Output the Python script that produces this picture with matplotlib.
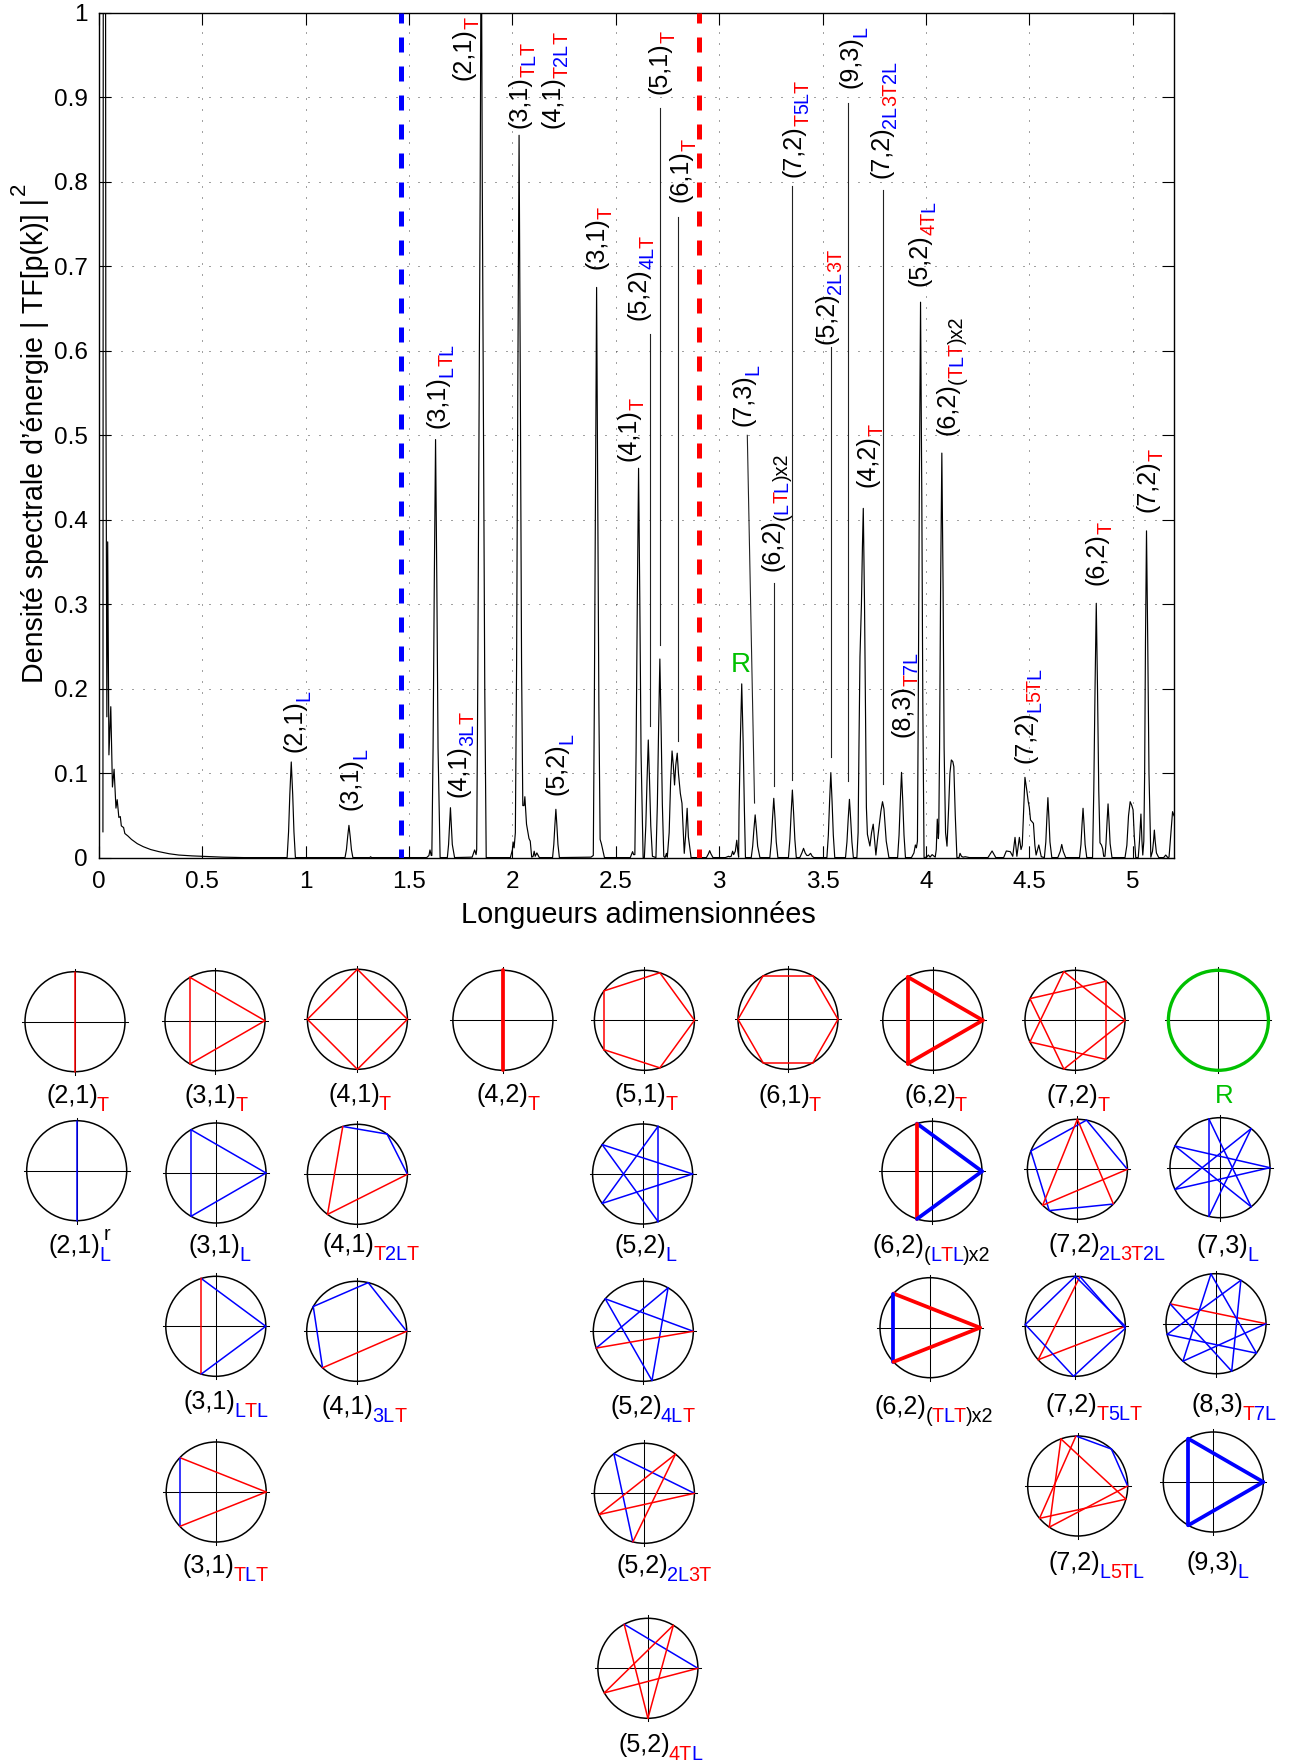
import numpy as np
import matplotlib
matplotlib.use("Agg")
import matplotlib.pyplot as plt
from matplotlib.patches import Circle

plt.rcParams.update({"font.family": ["Liberation Sans", "DejaVu Sans"], "font.size": 17})

W, H = 1297, 1764
AX_L, AX_R, AX_T, AX_B = 99, 1174, 12.7, 858
RED, BLUE, GREEN = "#ff0000", "#0000ff", "#00c000"

SPEC_X = [
    .019, .021, .031, .033, .038, .042, .048, .057, .065, .073, .082, .088, .096, .103, .108, .119, .125, .14, .157,
    .185, .214, .25, .29, .34, .386, .45, .5, .6, .7, .8,
    .91, .917, .923, .930, .937, .943, .95,
    1.19, 1.197, 1.203, 1.209, 1.215, 1.221, 1.228, 1.31, 1.314, 1.318,
    1.585, 1.596, 1.601, 1.607,
    1.610, 1.616, 1.622, 1.628, 1.634, 1.640, 1.650,
    1.685, 1.691, 1.696, 1.70, 1.704, 1.709, 1.72,
    1.805, 1.817, 1.824, 1.827, 1.832, 1.838, 1.844, 1.849, 1.854, 1.860, 1.866, 1.873,
    1.99, 2.0, 2.003, 2.008, 2.014, 2.02, 2.026, 2.032, 2.038, 2.044, 2.05, 2.056, 2.06, 2.068, 2.08, 2.086, 2.093, 2.10, 2.105, 2.11, 2.118, 2.13,
    2.194, 2.2, 2.205, 2.21, 2.215, 2.22, 2.227,
    2.38, 2.391, 2.396, 2.402, 2.407, 2.412, 2.418, 2.424, 2.43, 2.445,
    2.57, 2.581, 2.586, 2.592, 2.598, 2.604, 2.61, 2.616, 2.622, 2.632,
    2.638, 2.645, 2.651, 2.657, 2.663, 2.669, 2.677,
    2.694, 2.701, 2.707, 2.713, 2.719, 2.725, 2.732,
    2.738, 2.745, 2.749, 2.758, 2.765, 2.772, 2.778, 2.784, 2.79, 2.797, 2.803, 2.812, 2.82, 2.831, 2.837, 2.845, 2.851, 2.864,
    2.938, 2.948, 2.954, 2.96, 2.97,
    3.03, 3.045, 3.05, 3.058, 3.065, 3.07, 3.078, 3.085, 3.09, 3.094,
    3.096, 3.102, 3.109, 3.116, 3.122, 3.127,
    3.155, 3.162, 3.168, 3.174, 3.18, 3.186, 3.197,
    3.245, 3.252, 3.258, 3.264, 3.27, 3.276, 3.284,
    3.335, 3.342, 3.348, 3.354, 3.36, 3.366, 3.373,
    3.39, 3.40, 3.408, 3.416, 3.424, 3.432, 3.442, 3.45, 3.458,
    3.521, 3.528, 3.534, 3.54, 3.546, 3.552, 3.559,
    3.611, 3.618, 3.624, 3.63, 3.636, 3.642, 3.649,
    3.666, 3.672, 3.676, 3.681, 3.688, 3.693, 3.697, 3.703, 3.708, 3.712, 3.717, 3.729, 3.737, 3.745, 3.752, 3.758, 3.765, 3.773, 3.782, 3.79, 3.797, 3.808, 3.821,
    3.863, 3.87, 3.876, 3.882, 3.888, 3.894, 3.901,
    3.93, 3.942, 3.949, 3.954,
    3.959, 3.963, 3.968, 3.974, 3.98, 3.985, 3.991,
    3.995, 4.005, 4.012, 4.02, 4.03, 4.04, 4.045,
    4.05, 4.055, 4.06, 4.062, 4.066, 4.071, 4.077, 4.083, 4.088, 4.095, 4.102, 4.11, 4.116, 4.123, 4.13, 4.135, 4.142, 4.15,
    4.16, 4.165, 4.172, 4.18, 4.19, 4.2, 4.21,
    4.30, 4.32, 4.338,
    4.376, 4.389, 4.408, 4.42, 4.431, 4.44, 4.452, 4.46, 4.466, 4.479, 4.488, 4.495, 4.50, 4.506, 4.52, 4.527, 4.533, 4.546, 4.558,
    4.573, 4.58, 4.585, 4.59, 4.595, 4.6, 4.609,
    4.638, 4.65, 4.657, 4.664, 4.676,
    4.743, 4.75, 4.755, 4.76, 4.765, 4.77, 4.778,
    4.806, 4.812, 4.818, 4.824, 4.83, 4.836, 4.842, 4.849, 4.855, 4.86,
    4.866, 4.871, 4.876, 4.881, 4.886, 4.891, 4.9,
    4.963, 4.972, 4.98, 4.988, 4.996, 5.002, 5.008, 5.015,
    5.027, 5.033, 5.04, 5.045, 5.049,
    5.054, 5.058, 5.062, 5.067, 5.073, 5.079, 5.088,
    5.096, 5.101, 5.105, 5.109, 5.115, 5.126,
    5.15, 5.16, 5.17, 5.176, 5.185, 5.193, 5.2,
]
SPEC_Y = [
    .031, 1.3, 1.3, .6, .167, .374, .122, .179, .084, .105, .059, .069, .048, .049, .038, .036, .029, .026, .022,
    .017, .0134, .01, .0075, .005, .0035, .0025, .002, .001, .0005, .0005,
    .0005, .031, .075, .1136, .075, .031, .0005,
    .0005, .010, .0255, .0386, .0255, .010, .0005, .0005, .0015, .0005,
    .0005, .003, .0095, .003,
    .003, .13, .33, .495, .33, .13, .0005,
    .0005, .016, .039, .0595, .039, .016, .0005,
    .001, .0095, .004, .01, .2, .5, .8, 1.15, .8, .5, .2, .0005,
    .0005, .01, .019, .012, .03, .23, .56, .855, .56, .23, .062, .062, .0725, .04, .023, .02, .001, .002, .008, .002, .006, .0005,
    .0005, .016, .038, .0576, .038, .016, .0005,
    .001, .003, .18, .445, .675, .445, .18, .022, .017, .0005,
    .0005, .0075, .004, .004, .125, .305, .461, .305, .125, .0005,
    .0005, .038, .092, .1396, .092, .038, .002,
    .0005, .064, .155, .2354, .155, .064, .002,
    .0005, .0055, .001, .03, .09, .1266, .11, .0864, .11, .124, .10, .0765, .0647, .0055, .025, .0588, .025, .0005,
    .0005, .005, .0087, .005, .0005,
    .0005, .002, .0015, .002, .008, .004, .008, .021, .008, .001,
    .056, .136, .206, .136, .056, .0005,
    .0005, .014, .034, .051, .034, .014, .0005,
    .0005, .019, .047, .0706, .047, .019, .0005,
    .0005, .022, .053, .0804, .053, .022, .0005,
    .0005, .006, .0114, .006, .003, .003, .0055, .002, .0005,
    .0005, .027, .067, .101, .067, .027, .0005,
    .0005, .019, .046, .0694, .046, .019, .0005,
    .0005, .03, .13, .238, .30, .37, .4136, .30, .16, .06, .028, .0142, .03, .04, .02, .0035, .02, .037, .055, .0666, .058, .02, .0005,
    .0005, .027, .067, .1013, .067, .027, .0005,
    .0005, .006, .0154, .012,
    .02, .18, .43, .6575, .43, .18, .0005,
    .0005, .0015, .0035, .001, .004, .002, .001,
    .01, .046, .023, .03, .13, .32, .479, .32, .13, .03, .014, .06, .10, .116, .114, .108, .05, .0005,
    .0005, .0055, .002, .001, .0015, .001, .0005,
    .0005, .0083, .0005,
    .0005, .0083, .0075, .002, .0244, .002, .0244, .01, .015, .0954, .08, .0666, .06, .045, .041, .015, .0035, .0154, .0015,
    .0005, .019, .047, .0714, .047, .019, .0005,
    .0005, .008, .016, .008, .0005,
    .0005, .016, .039, .0588, .039, .016, .0005,
    .0005, .08, .2, .3013, .2, .08, .018, .0154, .011, .002,
    .002, .017, .042, .064, .042, .017, .0005,
    .0005, .015, .05, .0666, .062, .057, .025, .0005,
    .0005, .02, .052, .02, .0035,
    .02, .1, .255, .387, .255, .1, .001,
    .008, .02, .033, .02, .006, .0005,
    .0005, .0035, .0005, .001, .03, .0548, .05,
]

# leader lines from the labels down to their peaks
LEAD_X0 = [2.663, 2.715, 2.801, 3.136, 3.266, 3.354, 3.539, 3.624, 3.794]
LEAD_X1 = [2.663, 2.715, 2.801, 3.171, 3.266, 3.354, 3.539, 3.624, 3.794]
LEAD_TOP = [.62, .887, .758, .5, .325, .795, .605, .893, .79]
LEAD_BOT = [.156, .252, .138, .065, .085, .092, .119, .091, .087]

BLUE_LIMIT = 1.46
RED_LIMIT = 2.90

X_TICKS = [0, .5, 1, 1.5, 2, 2.5, 3, 3.5, 4, 4.5, 5]
X_TICK_LABELS = ["0", "0.5", "1", "1.5", "2", "2.5", "3", "3.5", "4", "4.5", "5"]
Y_TICKS = [0, .1, .2, .3, .4, .5, .6, .7, .8, .9, 1]
Y_TICK_LABELS = ["0", "0.1", "0.2", "0.3", "0.4", "0.5", "0.6", "0.7", "0.8", "0.9", "1"]

# rotated peak labels: main text, subscript, baseline x and start y in pixels
PEAK_MAIN = ["(2,1)", "(3,1)", "(4,1)", "(5,2)", "(3,1)", "(2,1)", "(3,1)", "(4,1)", "(3,1)", "(5,2)", "(4,1)",
             "(5,1)", "(6,1)", "(7,2)", "(9,3)", "(7,2)", "(5,2)", "(5,2)", "(7,3)", "(6,2)", "(4,2)", "(7,2)",
             "(6,2)", "(8,3)", "(7,2)", "(6,2)"]
PEAK_SUB = ["L", "L", "3LT", "L", "LTL", "T", "TLT", "T2LT", "T", "4LT", "T",
            "T", "T", "T5LT", "L", "2L3T2L", "2L3T", "4TL", "L", "(TLT)x2", "T", "T",
            "(LTL)x2", "T7L", "L5TL", "T"]
PEAK_PX = [301, 358, 465.5, 564, 444.6, 470.3, 526.4, 559, 604, 646, 636,
           666.8, 687.8, 800.6, 858, 888.4, 833, 926.7, 750.8, 954.8, 874.5, 1154.5,
           779.6, 909, 1032.7, 1103]
PEAK_PY = [751.7, 810, 796.7, 795, 427.7, 80, 127.7, 128.3, 269.3, 320, 460.7,
           94, 201.7, 176.7, 87.7, 178.3, 344.3, 285.7, 425.7, 435, 487, 511.7,
           570.7, 736.7, 762.7, 585]

# orbit diagrams: vertex angles in degrees, then L or T for each chord
ORBIT_ANGLES = [
    [90, 270], [0, 120, 240], [0, 90, 180, 270], [90, 270], [0, 72, 144, 216, 288], [0, 60, 120, 180, 240, 300],
    [0, 120, 240], [0, 102.86, 205.71, 308.57, 51.43, 154.29, 257.14], [],
    [90, 270], [0, 120, 240], [0, 53.6, 107, 233.3], [0, 144, 288, 72, 216], [0, 107.5, 252.5],
    [0, 79.5, 158.6, 235.7, 316, 90, 226], [0, 154.29, 308.57, 102.86, 257.14, 51.43, 205.71],
    [0, 107, 253], [0, 76.7, 150.3, 226.9], [0, 139.5, 280, 60.3, 199.6], [0, 136.9, 223.1],
    [0, 222, 84.6, 357.7, 268, 178, 90], [0, 156.6, 288.3, 60.2, 192.4, 323.9, 95.8, 228.6],
    [0, 136.6, 223.4], [0, 127.6, 256.6, 51.5, 205.1], [0, 47.7, 92, 220.3, 344.7, 109.6, 235.4], [0, 120, 240],
    [0, 118.3, 270, 59.4, 209.4],
]
ORBIT_KINDS = [
    "T", "TTT", "TTTT", "T", "TTTTT", "TTTTTT",
    "TTT", "TTTTTTT", "",
    "L", "LLL", "LLTT", "LLLLL", "LTL",
    "LLLLTTT", "LLLLLLL",
    "LTL", "LLLT", "LLLLT", "TLT",
    "TTLLLLL", "TLLLLLLL",
    "TLT", "LLTTT", "LLTTTTT", "LLL",
    "LTTTT",
]
ORBIT_THICK = [0, 0, 0, 1, 0, 0, 1, 0, 0,
               0, 0, 0, 0, 1, 0, 0,
               0, 0, 0, 1, 0, 0,
               0, 0, 0, 1, 0]
ORBIT_CX = [75, 215, 357.4, 502.9, 644.4, 788, 932.8, 1075, 1218.4,
            76.7, 216, 357.4, 642.6, 932, 1077.4, 1220,
            215.8, 356.7, 643.3, 930, 1075.3, 1216,
            216.2, 644.4, 1077.7, 1213.3,
            647.9]
ORBIT_CY = [1021.7, 1020.7, 1019.3, 1020.3, 1020.3, 1019.3, 1020.3, 1020.3, 1020.3,
            1170.7, 1173, 1174.3, 1174, 1171.3, 1169.3, 1167.7,
            1326.3, 1331.3, 1331.3, 1327.7, 1326.3, 1323.7,
            1492, 1493.3, 1486, 1482,
            1668.3]
ORBIT_MAIN = ["(2,1)", "(3,1)", "(4,1)", "(4,2)", "(5,1)", "(6,1)", "(6,2)", "(7,2)", "",
              "(2,1)", "(3,1)", "(4,1)", "(5,2)", "(6,2)", "(7,2)", "(7,3)",
              "(3,1)", "(4,1)", "(5,2)", "(6,2)", "(7,2)", "(8,3)",
              "(3,1)", "(5,2)", "(7,2)", "(9,3)",
              "(5,2)"]
ORBIT_SUB = ["T", "T", "T", "T", "T", "T", "T", "T", "",
             "L", "L", "T2LT", "L", "(LTL)x2", "2L3T2L", "L",
             "LTL", "3LT", "4LT", "(TLT)x2", "T5LT", "T7L",
             "TLT", "2L3T", "L5TL", "L",
             "4TL"]
ORBIT_LX = [46, 185, 328, 477, 615, 758, 904, 1047, 0,
            48.5, 189, 322.6, 615, 873, 1048, 1197,
            183.7, 321.8, 610, 875, 1045.7, 1191.7,
            182.5, 616, 1049, 1186.7,
            618]
ORBIT_LY = [1103, 1103, 1102, 1102, 1102, 1103, 1103, 1103, 0,
            1253, 1253, 1252, 1253, 1253, 1252, 1253,
            1409, 1414, 1414, 1414, 1411.7, 1411.7,
            1573, 1573, 1570, 1570,
            1751.7]


def sub_runs(sub):
    """Cut a subscript into runs of one colour: a digit takes the colour of the letter after it."""
    runs = []
    closed = False
    for i, c in enumerate(sub):
        if c == "(":
            col = "black"
        elif c == ")" or closed:
            col, closed = "black", True
        elif c.isdigit():
            col = RED if sub[i + 1] == "T" else BLUE
        else:
            col = RED if c == "T" else BLUE
        if runs and runs[-1][1] == col:
            runs[-1][0] += c
        else:
            runs.append([c, col])
    return runs


def draw_label(ov, renderer, x, y, main, sub, rotated):
    rot = 90 if rotated else 0
    t = ov.text(x, y, main, fontsize=18.1, color="black", rotation=rot, rotation_mode="anchor", ha="left", va="baseline")
    ext = t.get_window_extent(renderer)
    pos = (ext.height if rotated else ext.width) - 1
    for text, col in sub_runs(sub):
        if rotated:
            xy = (x + 8, y - pos)
        else:
            xy = (x + pos, y + 8)
        t = ov.text(xy[0], xy[1], text, fontsize=14.2, color=col, rotation=rot, rotation_mode="anchor", ha="left", va="baseline")
        ext = t.get_window_extent(renderer)
        pos += (ext.height if rotated else ext.width) - 0.5


def draw_orbit(ov, cx, cy, angles, kinds, thick, r=50):
    ov.plot([cx - r - 3, cx + r + 3], [cy, cy], color="black", lw=0.75, zorder=2)
    ov.plot([cx, cx], [cy - r - 3, cy + r + 3], color="black", lw=0.75, zorder=2)
    if not angles:
        ov.add_patch(Circle((cx, cy), r, fill=False, ec=GREEN, lw=2.4, zorder=3))
        return
    ov.add_patch(Circle((cx, cy), r, fill=False, ec="black", lw=1.1, zorder=3))
    a = np.radians(angles)
    vx = cx + r * np.cos(a)
    vy = cy - r * np.sin(a)
    for i, k in enumerate(kinds):
        j = (i + 1) % len(angles)
        ov.plot([vx[i], vx[j]], [vy[i], vy[j]], color=RED if k == "T" else BLUE,
                lw=2.7 if thick else 1.1, solid_capstyle="round", zorder=4)


fig = plt.figure(figsize=(W / 100, H / 100), dpi=100, facecolor="white")
ax = fig.add_axes([AX_L / W, 1 - AX_B / H, (AX_R - AX_L) / W, (AX_B - AX_T) / H])

ax.plot(SPEC_X, SPEC_Y, color="black", lw=0.85, zorder=3)
for x0, x1, top, bot in zip(LEAD_X0, LEAD_X1, LEAD_TOP, LEAD_BOT):
    ax.plot([x0, x1], [top, bot], color="#222222", lw=0.8, zorder=3)
ax.plot([BLUE_LIMIT] * 2, [1, 0], color=BLUE, lw=3.6, ls=(1.0, (3, 2.8)), dash_capstyle="butt", zorder=4)
ax.plot([RED_LIMIT] * 2, [1, 0], color=RED, lw=3.6, ls=(1.0, (3, 2.8)), dash_capstyle="butt", zorder=4)

ax.set_xlim(0, 5.2)
ax.set_ylim(0, 1)
ax.set_xticks(X_TICKS)
ax.set_xticklabels(X_TICK_LABELS)
ax.set_yticks(Y_TICKS)
ax.set_yticklabels(Y_TICK_LABELS)
ax.tick_params(direction="in", length=8.6, width=0.8, top=True, right=True, labelsize=17.5, pad=9)
ax.tick_params(axis="y", pad=8)
ax.grid(True, color="#444444", lw=0.72, ls=(0, (1, 10)))
ax.set_axisbelow(True)
for s in ax.spines.values():
    s.set_linewidth(1.0)

# overlay in image pixels for everything outside the data scale
ov = fig.add_axes([0, 0, 1, 1], facecolor="none")
ov.set_xlim(0, W)
ov.set_ylim(H, 0)
ov.axis("off")
renderer = fig.canvas.get_renderer()

ov.text(638, 923, "Longueurs adimensionnées", fontsize=20.8, ha="center", va="baseline")
ov.text(43.3, 683, "Densité spectrale d’énergie | TF[p(k)] |", fontsize=20.6, rotation=90,
        rotation_mode="anchor", ha="left", va="baseline")
ov.text(25, 195, "2", fontsize=16, rotation=90, rotation_mode="anchor", ha="left", va="baseline")

for main, sub, px, py in zip(PEAK_MAIN, PEAK_SUB, PEAK_PX, PEAK_PY):
    draw_label(ov, renderer, px, py, main, sub, True)
ov.text(730.6, 671.7, "R", fontsize=20, color=GREEN, ha="left", va="baseline")

for angles, kinds, thick, cx, cy in zip(ORBIT_ANGLES, ORBIT_KINDS, ORBIT_THICK, ORBIT_CX, ORBIT_CY):
    draw_orbit(ov, cx, cy, angles, kinds, thick)
for main, sub, lx, ly in zip(ORBIT_MAIN, ORBIT_SUB, ORBIT_LX, ORBIT_LY):
    if main:
        draw_label(ov, renderer, lx, ly, main, sub, False)
ov.text(1215, 1103, "R", fontsize=18.5, color=GREEN, ha="left", va="baseline")
ov.text(103.6, 1240, "r", fontsize=14.2, color="black", ha="left", va="baseline")

fig.savefig("out.png", dpi=100)
